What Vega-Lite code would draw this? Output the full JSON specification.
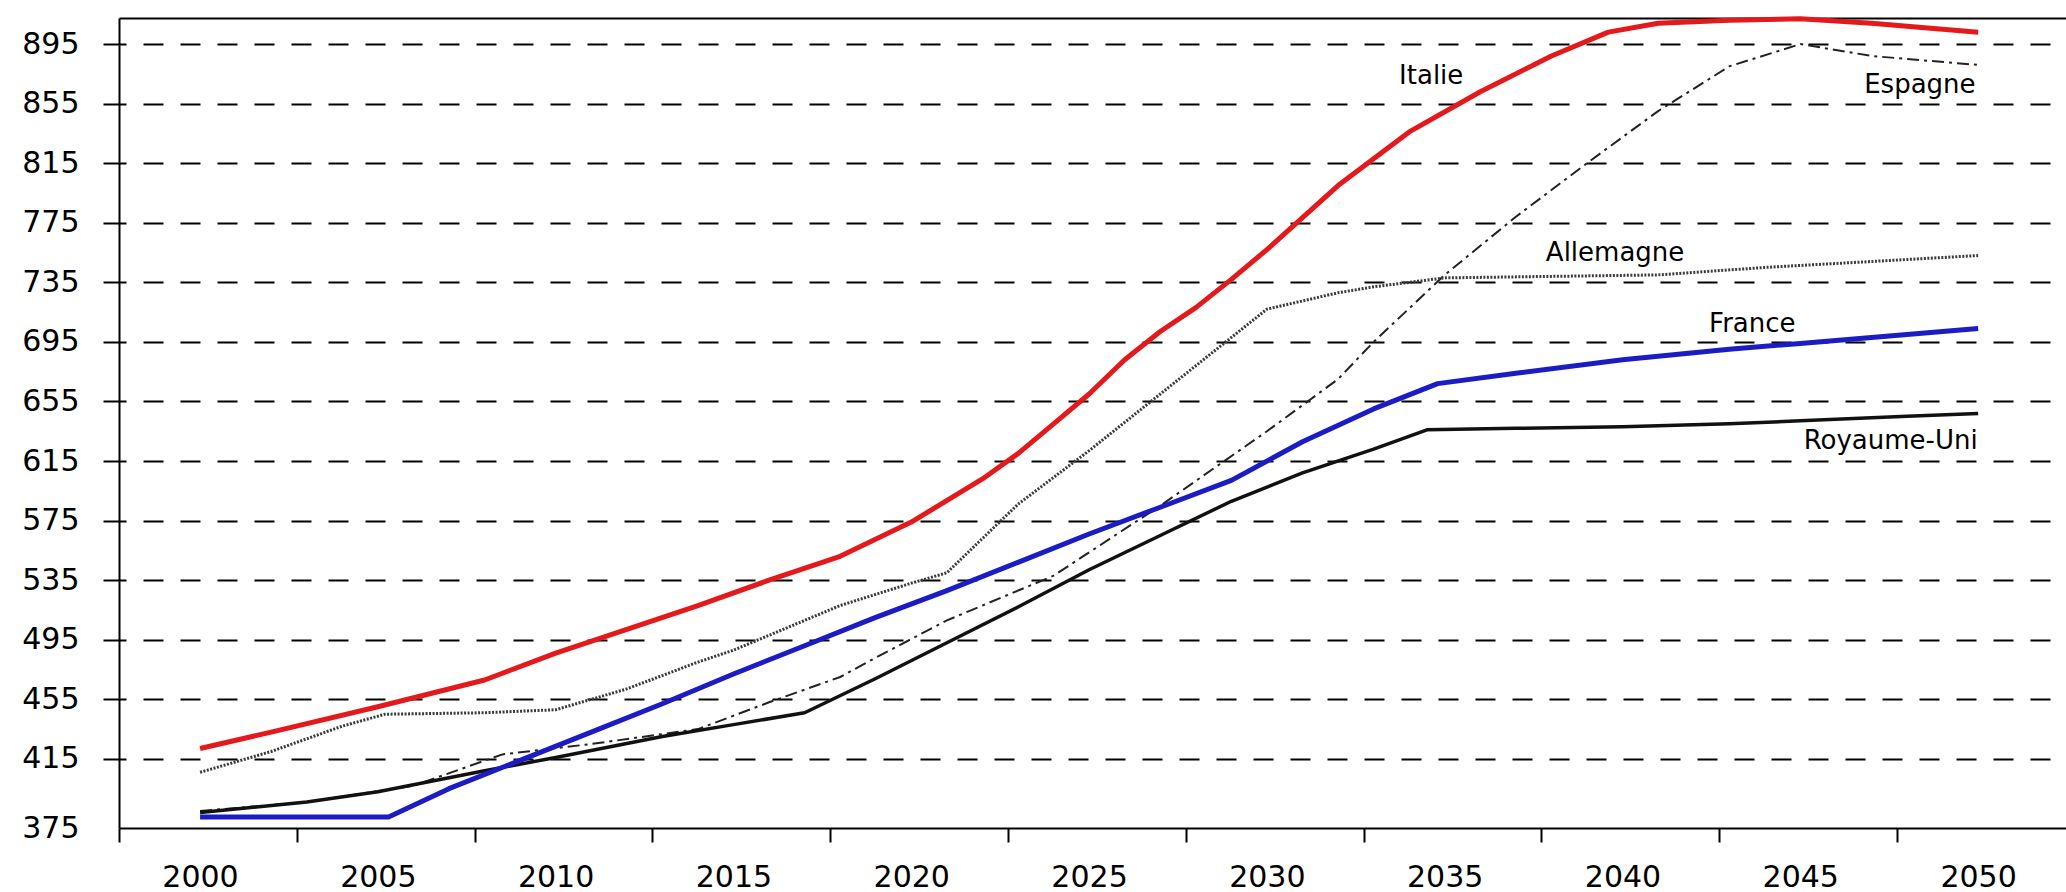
{
  "$schema": "https://vega.github.io/schema/vega-lite/v6.json",
  "width": 1947,
  "height": 810,
  "autosize": "none",
  "padding": {"left": 119, "top": 18, "right": 0, "bottom": 64},
  "config": {"view": {"stroke": null}, "font": "DejaVu Sans"},
  "datasets": {
    "series": [
      {"pays": "Italie", "annee": 2000, "valeur": 422},
      {"pays": "Italie", "annee": 2002, "valeur": 433},
      {"pays": "Italie", "annee": 2005, "valeur": 450},
      {"pays": "Italie", "annee": 2008, "valeur": 468},
      {"pays": "Italie", "annee": 2010, "valeur": 486},
      {"pays": "Italie", "annee": 2012, "valeur": 502},
      {"pays": "Italie", "annee": 2014, "valeur": 518},
      {"pays": "Italie", "annee": 2016, "valeur": 535},
      {"pays": "Italie", "annee": 2018, "valeur": 551},
      {"pays": "Italie", "annee": 2020, "valeur": 574},
      {"pays": "Italie", "annee": 2022, "valeur": 603},
      {"pays": "Italie", "annee": 2023, "valeur": 620},
      {"pays": "Italie", "annee": 2024, "valeur": 640},
      {"pays": "Italie", "annee": 2025, "valeur": 660},
      {"pays": "Italie", "annee": 2026, "valeur": 683},
      {"pays": "Italie", "annee": 2027, "valeur": 702},
      {"pays": "Italie", "annee": 2028, "valeur": 718},
      {"pays": "Italie", "annee": 2029, "valeur": 737},
      {"pays": "Italie", "annee": 2030, "valeur": 757},
      {"pays": "Italie", "annee": 2032, "valeur": 800},
      {"pays": "Italie", "annee": 2034, "valeur": 836},
      {"pays": "Italie", "annee": 2036, "valeur": 863},
      {"pays": "Italie", "annee": 2038, "valeur": 887},
      {"pays": "Italie", "annee": 2039.6, "valeur": 903},
      {"pays": "Italie", "annee": 2041, "valeur": 909},
      {"pays": "Italie", "annee": 2043, "valeur": 911},
      {"pays": "Italie", "annee": 2045, "valeur": 912},
      {"pays": "Italie", "annee": 2047, "valeur": 909},
      {"pays": "Italie", "annee": 2050, "valeur": 903},
      {"pays": "France", "annee": 2000, "valeur": 376},
      {"pays": "France", "annee": 2005.3, "valeur": 376},
      {"pays": "France", "annee": 2007, "valeur": 395},
      {"pays": "France", "annee": 2009, "valeur": 414},
      {"pays": "France", "annee": 2011, "valeur": 433},
      {"pays": "France", "annee": 2013, "valeur": 452},
      {"pays": "France", "annee": 2015, "valeur": 472},
      {"pays": "France", "annee": 2017, "valeur": 491},
      {"pays": "France", "annee": 2019, "valeur": 510},
      {"pays": "France", "annee": 2021, "valeur": 528},
      {"pays": "France", "annee": 2023, "valeur": 547},
      {"pays": "France", "annee": 2025, "valeur": 566},
      {"pays": "France", "annee": 2027, "valeur": 584},
      {"pays": "France", "annee": 2029, "valeur": 602},
      {"pays": "France", "annee": 2031, "valeur": 628},
      {"pays": "France", "annee": 2033, "valeur": 650},
      {"pays": "France", "annee": 2034.8, "valeur": 667},
      {"pays": "France", "annee": 2037, "valeur": 674},
      {"pays": "France", "annee": 2040, "valeur": 683},
      {"pays": "France", "annee": 2043, "valeur": 690},
      {"pays": "France", "annee": 2045, "valeur": 694},
      {"pays": "France", "annee": 2048, "valeur": 700},
      {"pays": "France", "annee": 2050, "valeur": 704},
      {"pays": "Royaume-Uni", "annee": 2000, "valeur": 379},
      {"pays": "Royaume-Uni", "annee": 2003, "valeur": 386},
      {"pays": "Royaume-Uni", "annee": 2005, "valeur": 393},
      {"pays": "Royaume-Uni", "annee": 2008, "valeur": 407},
      {"pays": "Royaume-Uni", "annee": 2010, "valeur": 416},
      {"pays": "Royaume-Uni", "annee": 2013, "valeur": 430},
      {"pays": "Royaume-Uni", "annee": 2015, "valeur": 438},
      {"pays": "Royaume-Uni", "annee": 2017, "valeur": 446},
      {"pays": "Royaume-Uni", "annee": 2019, "valeur": 469},
      {"pays": "Royaume-Uni", "annee": 2021, "valeur": 493},
      {"pays": "Royaume-Uni", "annee": 2023, "valeur": 517},
      {"pays": "Royaume-Uni", "annee": 2025, "valeur": 542},
      {"pays": "Royaume-Uni", "annee": 2027, "valeur": 565},
      {"pays": "Royaume-Uni", "annee": 2029, "valeur": 588},
      {"pays": "Royaume-Uni", "annee": 2031, "valeur": 607},
      {"pays": "Royaume-Uni", "annee": 2033, "valeur": 623},
      {"pays": "Royaume-Uni", "annee": 2034.5, "valeur": 636},
      {"pays": "Royaume-Uni", "annee": 2037, "valeur": 637},
      {"pays": "Royaume-Uni", "annee": 2040, "valeur": 638},
      {"pays": "Royaume-Uni", "annee": 2043, "valeur": 640},
      {"pays": "Royaume-Uni", "annee": 2045, "valeur": 642},
      {"pays": "Royaume-Uni", "annee": 2048, "valeur": 645},
      {"pays": "Royaume-Uni", "annee": 2050, "valeur": 647},
      {"pays": "Allemagne", "annee": 2000, "valeur": 406},
      {"pays": "Allemagne", "annee": 2002, "valeur": 420},
      {"pays": "Allemagne", "annee": 2004, "valeur": 437},
      {"pays": "Allemagne", "annee": 2005.2, "valeur": 445},
      {"pays": "Allemagne", "annee": 2008, "valeur": 446},
      {"pays": "Allemagne", "annee": 2010, "valeur": 448},
      {"pays": "Allemagne", "annee": 2012, "valeur": 462},
      {"pays": "Allemagne", "annee": 2014, "valeur": 480},
      {"pays": "Allemagne", "annee": 2015, "valeur": 488},
      {"pays": "Allemagne", "annee": 2016.8, "valeur": 506},
      {"pays": "Allemagne", "annee": 2018, "valeur": 518},
      {"pays": "Allemagne", "annee": 2020, "valeur": 533},
      {"pays": "Allemagne", "annee": 2021, "valeur": 540},
      {"pays": "Allemagne", "annee": 2023, "valeur": 586},
      {"pays": "Allemagne", "annee": 2025, "valeur": 622},
      {"pays": "Allemagne", "annee": 2027, "valeur": 660},
      {"pays": "Allemagne", "annee": 2029, "valeur": 698},
      {"pays": "Allemagne", "annee": 2030, "valeur": 717},
      {"pays": "Allemagne", "annee": 2032, "valeur": 728},
      {"pays": "Allemagne", "annee": 2033, "valeur": 732},
      {"pays": "Allemagne", "annee": 2035, "valeur": 738},
      {"pays": "Allemagne", "annee": 2038, "valeur": 739},
      {"pays": "Allemagne", "annee": 2041, "valeur": 740},
      {"pays": "Allemagne", "annee": 2044, "valeur": 745},
      {"pays": "Allemagne", "annee": 2047, "valeur": 749},
      {"pays": "Allemagne", "annee": 2050, "valeur": 753},
      {"pays": "Espagne", "annee": 2000, "valeur": 380},
      {"pays": "Espagne", "annee": 2003, "valeur": 386},
      {"pays": "Espagne", "annee": 2006, "valeur": 397},
      {"pays": "Espagne", "annee": 2008.5, "valeur": 418},
      {"pays": "Espagne", "annee": 2011, "valeur": 425},
      {"pays": "Espagne", "annee": 2014, "valeur": 435},
      {"pays": "Espagne", "annee": 2016, "valeur": 453},
      {"pays": "Espagne", "annee": 2018, "valeur": 470},
      {"pays": "Espagne", "annee": 2019, "valeur": 483},
      {"pays": "Espagne", "annee": 2021, "valeur": 508},
      {"pays": "Espagne", "annee": 2024, "valeur": 538},
      {"pays": "Espagne", "annee": 2027, "valeur": 585},
      {"pays": "Espagne", "annee": 2030, "valeur": 635},
      {"pays": "Espagne", "annee": 2032, "valeur": 670},
      {"pays": "Espagne", "annee": 2033, "valeur": 695},
      {"pays": "Espagne", "annee": 2035, "valeur": 740},
      {"pays": "Espagne", "annee": 2037, "valeur": 779},
      {"pays": "Espagne", "annee": 2039, "valeur": 815},
      {"pays": "Espagne", "annee": 2041, "valeur": 850},
      {"pays": "Espagne", "annee": 2043, "valeur": 880},
      {"pays": "Espagne", "annee": 2045, "valeur": 895},
      {"pays": "Espagne", "annee": 2047, "valeur": 887},
      {"pays": "Espagne", "annee": 2050, "valeur": 881}
    ],
    "etiquettes": [
      {"texte": "Italie", "annee": 2034.62, "valeur": 873.5},
      {"texte": "Espagne", "annee": 2048.36, "valeur": 867.5},
      {"texte": "Allemagne", "annee": 2039.79, "valeur": 755},
      {"texte": "France", "annee": 2043.65, "valeur": 707},
      {"texte": "Royaume-Uni", "annee": 2047.54, "valeur": 628.3}
    ]
  },
  "data": {"name": "series"},
  "encoding": {
    "y": {
      "field": "valeur",
      "type": "quantitative",
      "scale": {"domain": [368.6, 912.5], "nice": false, "zero": false},
      "axis": {
        "title": null,
        "values": [375, 415, 455, 495, 535, 575, 615, 655, 695, 735, 775, 815, 855, 895],
        "grid": true,
        "gridColor": "black",
        "gridWidth": 2,
        "gridDash": [20, 17],
        "gridDashOffset": 13,
        "gridOpacity": {"condition": {"test": "datum.value < 380", "value": 0}, "value": 1},
        "tickSize": 16,
        "tickWidth": 2,
        "tickColor": "black",
        "tickOpacity": {"condition": {"test": "datum.value < 380", "value": 0}, "value": 1},
        "labelOffset": {"condition": {"test": "datum.value < 380", "value": 10}, "value": 0},
        "domainColor": "black",
        "domainWidth": 2,
        "labelFont": "DejaVu Sans",
        "labelFontSize": 30,
        "labelColor": "black",
        "labelPadding": 24,
        "labelOverlap": false
      }
    }
  },
  "layer": [
    {
      "transform": [{"filter": "datum.pays == 'Espagne'"}],
      "mark": {"type": "line", "color": "#222222", "strokeWidth": 2, "strokeDash": [12, 5, 3, 5]},
      "encoding": {
        "x": {
          "field": "annee",
          "type": "quantitative",
          "scale": {"domain": [1997.72, 2052.47], "nice": false, "zero": false},
          "axis": {
            "title": null,
            "orient": "bottom",
            "values": [1997.72, 2002.72, 2007.72, 2012.72, 2017.72, 2022.72, 2027.72, 2032.72, 2037.72, 2042.72, 2047.72],
            "labelExpr": "format(datum.value + 2.28, 'd')",
            "labelOffset": 81,
            "labelFlush": false,
            "labelOverlap": false,
            "grid": false,
            "tickSize": 14,
            "tickWidth": 2,
            "tickColor": "black",
            "domainColor": "black",
            "domainWidth": 2,
            "labelFont": "DejaVu Sans",
            "labelFontSize": 30,
            "labelColor": "black",
            "labelPadding": 20
          }
        }
      }
    },
    {
      "transform": [{"filter": "datum.pays == 'Allemagne'"}],
      "mark": {"type": "line", "color": "#3a3a3a", "strokeWidth": 3, "strokeDash": [2, 1.5]},
      "encoding": {"x": {"field": "annee", "type": "quantitative", "axis": null}}
    },
    {
      "transform": [{"filter": "datum.pays == 'Royaume-Uni'"}],
      "mark": {"type": "line", "color": "#111111", "strokeWidth": 3.5, "strokeJoin": "round"},
      "encoding": {"x": {"field": "annee", "type": "quantitative", "axis": null}}
    },
    {
      "transform": [{"filter": "datum.pays == 'France'"}],
      "mark": {"type": "line", "color": "#1c1cc4", "strokeWidth": 5, "strokeJoin": "round"},
      "encoding": {"x": {"field": "annee", "type": "quantitative", "axis": null}}
    },
    {
      "transform": [{"filter": "datum.pays == 'Italie'"}],
      "mark": {"type": "line", "color": "#e3191c", "strokeWidth": 5, "strokeJoin": "round"},
      "encoding": {"x": {"field": "annee", "type": "quantitative", "axis": null}}
    },
    {
      "data": {"name": "etiquettes"},
      "mark": {"type": "text", "font": "DejaVu Sans", "fontSize": 26, "color": "black", "align": "center", "baseline": "middle"},
      "encoding": {
        "x": {
          "field": "annee",
          "type": "quantitative",
          "axis": {"orient": "top", "title": null, "labels": false, "ticks": false, "grid": false, "domainColor": "black", "domainWidth": 2}
        },
        "text": {"field": "texte"}
      }
    }
  ],
  "resolve": {"axis": {"x": "independent"}}
}
